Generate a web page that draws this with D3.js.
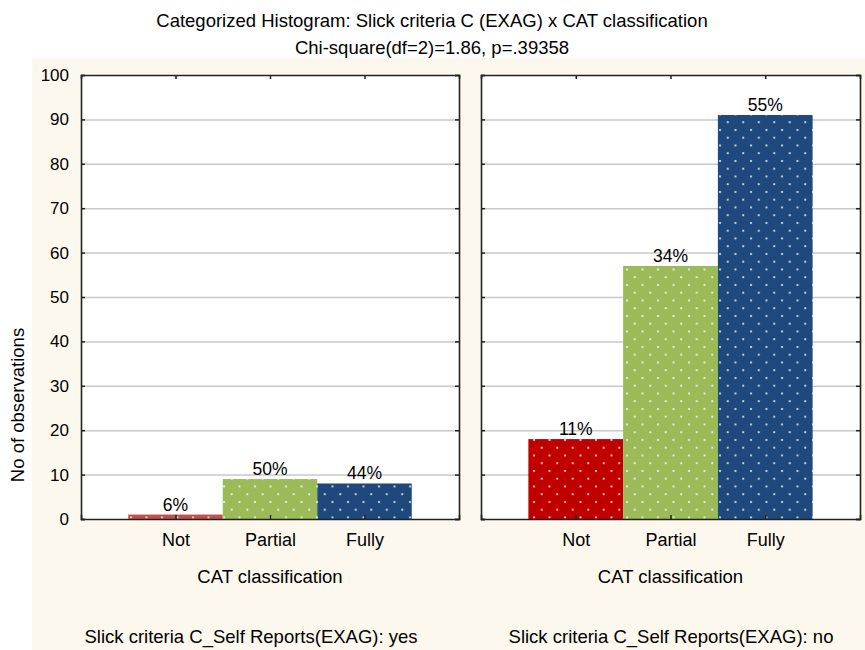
<!DOCTYPE html>
<html><head><meta charset="utf-8">
<script src="https://cdn.jsdelivr.net/npm/d3@7"></script>
<style>
body{margin:0;background:#fff;}
text{font-family:"Liberation Sans",Arial,sans-serif;fill:#000;}
</style></head><body>
<script>
const categories = ["Not","Partial","Fully"];
const panelLabels = ["Slick criteria C_Self Reports(EXAG): yes","Slick criteria C_Self Reports(EXAG): no"];
const valuesYes = [1, 9, 8];
const valuesNo = [18, 57, 91];
const percentYes = ["6%","50%","44%"];
const percentNo = ["11%","34%","55%"];
const yTicks = [0,10,20,30,40,50,60,70,80,90,100];
const colorsYes = ["#c0504d","#9bbb59","#1f497d"];
const colorsNo = ["#c00000","#9bbb59","#1f497d"];
const title = "Categorized Histogram: Slick criteria C (EXAG) x CAT classification";
const subtitle = "Chi-square(df=2)=1.86, p=.39358";
const xTitle = "CAT classification";
const yTitle = "No of observations";

const W=865,H=650;
const svg=d3.select("body").append("svg").attr("width",W).attr("height",H);
svg.append("rect").attr("width",W).attr("height",H).attr("fill","#fff");
svg.append("rect").attr("x",32).attr("y",58).attr("width",W-32).attr("height",H-58).attr("fill","#fdf8ed");

svg.append("text").attr("x",432).attr("y",27).attr("text-anchor","middle").attr("font-size",18.5).text(title);
svg.append("text").attr("x",432).attr("y",54).attr("text-anchor","middle").attr("font-size",18.5).text(subtitle);

const defs=svg.append("defs");
const allColors=Array.from(new Set(colorsYes.concat(colorsNo)));
allColors.forEach(c=>{
  const p=defs.append("pattern").attr("id","pat"+c.slice(1)).attr("patternUnits","userSpaceOnUse")
    .attr("width",15.5).attr("height",15.5).attr("x",4).attr("y",3);
  p.append("rect").attr("width",15.5).attr("height",15.5).attr("fill",c);
  p.append("circle").attr("cx",3).attr("cy",3).attr("r",1.1).attr("fill","#fff").attr("opacity",0.85);
  p.append("circle").attr("cx",10.75).attr("cy",10.75).attr("r",1.1).attr("fill","#fff").attr("opacity",0.85);
});

const y=d3.scaleLinear().domain([0,100]).range([519,75]);
const panels=[
  {x0:81,x1:459,vals:valuesYes,pct:percentYes,cols:colorsYes,label:panelLabels[0],labelX:251,showY:true},
  {x0:481,x1:860,vals:valuesNo,pct:percentNo,cols:colorsNo,label:panelLabels[1],labelX:671,showY:false}
];
panels.forEach(P=>{
  const x=d3.scaleLinear().domain([0,4]).range([P.x0,P.x1]);
  const bw=x(1)-x(0);
  const g=svg.append("g");
  g.append("rect").attr("x",P.x0).attr("y",y(100)).attr("width",P.x1-P.x0).attr("height",y(0)-y(100)).attr("fill","#fff");
  g.append("g").attr("transform",`translate(${P.x0},0)`)
    .call(d3.axisLeft(y).tickValues(yTicks.filter(t=>t>0&&t<100)).tickSize(-(P.x1-P.x0)).tickFormat(""))
    .call(s=>{s.select(".domain").remove();s.selectAll("line").attr("stroke","#c8c8c8").attr("stroke-width",1.5);});
  categories.forEach((c,i)=>{
    g.append("rect").attr("x",x(i+1)-bw/2).attr("width",bw)
      .attr("y",y(P.vals[i])).attr("height",y(0)-y(P.vals[i]))
      .attr("fill",`url(#pat${P.cols[i].slice(1)})`);
    g.append("text").attr("x",x(i+1)).attr("y",y(P.vals[i])-4).attr("text-anchor","middle")
      .attr("font-size",17.5).text(P.pct[i]);
  });
  const xt=[1,2,3];
  const left=g.append("g").attr("transform",`translate(${P.x0},0)`)
    .call(d3.axisLeft(y).tickValues(yTicks).tickSize(-4).tickPadding(12).tickFormat(P.showY?d3.format("d"):""));
  const right=g.append("g").attr("transform",`translate(${P.x1},0)`)
    .call(d3.axisRight(y).tickValues(yTicks).tickSize(-4).tickFormat(""));
  const top=g.append("g").attr("transform",`translate(0,${y(100)})`)
    .call(d3.axisTop(x).tickValues(xt).tickSize(-4).tickFormat(""));
  const bottom=g.append("g").attr("transform",`translate(0,${y(0)})`)
    .call(d3.axisBottom(x).tickValues(xt).tickSize(-4).tickPadding(14).tickFormat(d=>categories[d-1]));
  [left,right,top,bottom].forEach(a=>{
    a.select(".domain").attr("stroke","#222").attr("stroke-width",1.6);
    a.selectAll(".tick line").attr("stroke","#222").attr("stroke-width",1.5);
    a.selectAll("text").attr("font-size",17).attr("font-family","'Liberation Sans',Arial,sans-serif").attr("fill","#000");
  });
  bottom.selectAll("text").attr("font-size",18);
  g.append("text").attr("x",(P.x0+P.x1)/2).attr("y",583).attr("text-anchor","middle").attr("font-size",18.5).text(xTitle);
  g.append("text").attr("x",P.labelX).attr("y",643).attr("text-anchor","middle").attr("font-size",18.5).text(P.label);
});
svg.append("text").attr("transform","translate(24,405) rotate(-90)").attr("text-anchor","middle").attr("font-size",18.5).text(yTitle);
</script>
</body></html>
